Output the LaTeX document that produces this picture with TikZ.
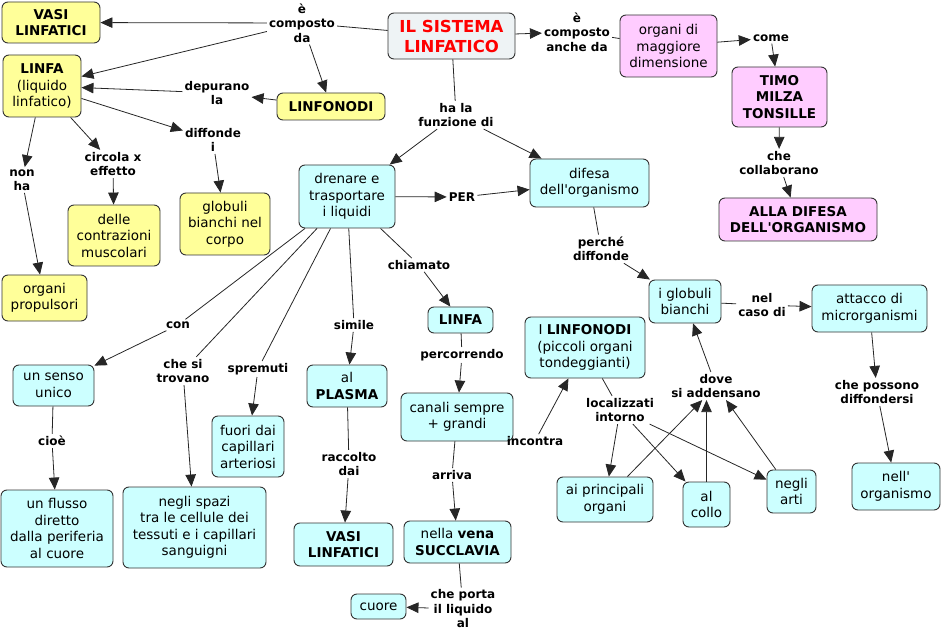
\documentclass[tikz,border=0pt]{standalone}
\usepackage{fontspec}
\setmainfont{DejaVu Sans}
\newfontfamily\dv{DejaVu Sans}
\usetikzlibrary{arrows.meta}
\definecolor{yel}{RGB}{255,255,153}
\definecolor{cy}{RGB}{204,255,255}
\definecolor{pk}{RGB}{255,204,255}
\definecolor{sysfill}{RGB}{238,243,245}
\tikzset{
 box/.style={draw=black!80, line width=0.9pt, rounded corners=6pt, align=center, inner sep=2pt, font=\dv\fontsize{13.5}{16.5}\selectfont},
 bbox/.style={box, font=\dv\fontsize{13.5}{16.5}\selectfont\bfseries},
 yf/.style={fill=yel},
 cf/.style={fill=cy},
 pf/.style={fill=pk},
 sz/.style n args={2}{minimum width=#1pt, minimum height=#2pt},
 lab/.style={align=center, inner sep=2pt, font=\dv\fontsize{12}{14.5}\selectfont\bfseries},
 conn/.style={line width=0.8pt, draw=black!85},
 arr/.style={conn, -{Triangle[length=12pt,width=10.5pt]}},
}
\begin{document}
\begin{tikzpicture}[x=1pt,y=-1pt]
\useasboundingbox (0,0) rectangle (943,631);
% ---------- boxes ----------
\node[bbox,yf,sz={98}{41}] (vasiY) at (51,22.5) {VASI\\LINFATICI};
\node[box,yf,sz={78}{62}] (linfaY) at (42,86) {\textbf{LINFA}\\(liquido\\linfatico)};
\node[bbox,yf,sz={108}{27}] (linfonodiY) at (331,106.5) {LINFONODI};
\node[box,yf,sz={90}{62}] (globuliY) at (225,224) {globuli\\bianchi nel\\corpo};
\node[box,yf,sz={92}{61}] (contraz) at (114,235.5) {delle\\contrazioni\\muscolari};
\node[box,yf,sz={85}{46}] (propuls) at (44.5,298) {organi\\propulsori};
\node[box,fill=sysfill,sz={127}{46},text=red,font=\dv\fontsize{16.5}{20}\selectfont\bfseries] (sistema) at (451.5,36) {IL SISTEMA\\LINFATICO};
\node[box,pf,sz={97}{62}] (organiP) at (668.5,46) {organi di\\maggiore\\dimensione};
\node[bbox,pf,sz={95}{60}] (timo) at (779.5,97) {TIMO\\MILZA\\TONSILLE};
\node[bbox,pf,sz={158}{43}] (allaDif) at (798,219.5) {ALLA DIFESA\\DELL'ORGANISMO};
\node[box,cf,sz={96}{63}] (drenare) at (347,196.5) {drenare e\\trasportare\\i liquidi};
\node[box,cf,sz={119}{48}] (difesa) at (589.5,183) {difesa\\dell'organismo};
\node[box,cf,sz={72}{43}] (globuliC) at (685,301.5) {i globuli\\bianchi};
\node[box,cf,sz={115}{47}] (attacco) at (869.5,308.5) {attacco di\\microrganismi};
\node[box,cf,sz={88}{47}] (nellorg) at (896,486.5) {nell'\\organismo};
\node[box,cf,sz={120}{61}] (linfonodiC) at (585,347.5) {I \textbf{LINFONODI}\\(piccoli organi\\tondeggianti)};
\node[box,cf,sz={96}{45}] (aiPrinc) at (605,499.5) {ai principali\\organi};
\node[box,cf,sz={47}{45}] (collo) at (706.5,504.5) {al\\collo};
\node[box,cf,sz={49}{43}] (arti) at (791.5,491.5) {negli\\arti};
\node[bbox,cf,sz={65}{26}] (linfaC) at (460.5,320) {LINFA};
\node[box,cf,sz={80}{42}] (plasma) at (347,386) {al\\\textbf{PLASMA}};
\node[box,cf,sz={112}{48}] (canali) at (457,417) {canali sempre\\+ grandi};
\node[bbox,cf,sz={99}{43}] (vasiC) at (343.5,544.5) {VASI\\LINFATICI};
\node[box,cf,sz={107}{42}] (vena) at (457.5,542) {nella \textbf{vena}\\\textbf{SUCCLAVIA}};
\node[box,cf,sz={55}{25}] (cuore) at (378.5,606.5) {cuore};
\node[box,cf,sz={81}{41}] (senso) at (53.5,385.5) {un senso\\unico};
\node[box,cf,sz={112}{77}] (flusso) at (57,528.5) {un flusso\\diretto\\dalla periferia\\al cuore};
\node[box,cf,sz={143}{81}] (spazi) at (194.5,527.5) {negli spazi\\tra le cellule dei\\tessuti e i capillari\\sanguigni};
\node[box,cf,sz={72}{61}] (fuori) at (248,446.5) {fuori dai\\capillari\\arteriosi};
% ---------- labels ----------
\node[lab] (lComp) at (302,23) {è\\composto\\da};
\node[lab] (lDep) at (217,93) {depurano\\la};
\node[lab] (lDiff) at (213,140) {diffonde\\i};
\node[lab] (lCirc) at (113,164) {circola x\\effetto};
\node[lab] (lNon) at (22,180) {non\\ha};
\node[lab] (lCompA) at (577,32) {è\\composto\\anche da};
\node[lab] (lCome) at (771,38) {come};
\node[lab] (lCollab) at (779,163) {che\\collaborano};
\node[lab] (lFunz) at (456,115) {ha la\\funzione di};
\node[lab] (lPer) at (462,197) {PER};
\node[lab] (lPerche) at (601,249) {perché\\diffonde};
\node[lab] (lNel) at (762,305) {nel\\caso di};
\node[lab] (lPoss) at (877,392) {che possono\\diffondersi};
\node[lab] (lLoc) at (620,410) {localizzati\\intorno};
\node[lab] (lDove) at (716,386) {dove\\si addensano};
\node[lab] (lInc) at (535,441) {incontra};
\node[lab] (lPerc) at (462,355) {percorrendo};
\node[lab] (lChiam) at (419,265) {chiamato};
\node[lab] (lSimile) at (354,325) {simile};
\node[lab] (lRacc) at (349,464) {raccolto\\dai};
\node[lab] (lArriva) at (452,475) {arriva};
\node[lab] (lPorta) at (463,609) {che porta\\il liquido\\al};
\node[lab] (lCon) at (178,325) {con};
\node[lab] (lTrov) at (183,371) {che si\\trovano};
\node[lab] (lSprem) at (258,369) {spremuti};
\node[lab] (lCioe) at (52,441) {cioè};
% ---------- connectors ----------
\draw[conn] (sistema) -- (lComp);
\draw[arr] (lComp) -- (vasiY);
\draw[arr] (lComp) -- (linfaY);
\draw[arr] (lComp) -- (linfonodiY);
\draw[arr] (linfonodiY) -- (lDep);
\draw[arr] (lDep) -- (linfaY);
\draw[arr] (linfaY) -- (lDiff);
\draw[arr] (lDiff) -- (globuliY);
\draw[arr] (linfaY) -- (lCirc);
\draw[arr] (lCirc) -- (contraz);
\draw[arr] (linfaY) -- (lNon);
\draw[arr] (lNon) -- (propuls);
\draw[arr] (sistema) -- (lCompA);
\draw[conn] (lCompA) -- (organiP);
\draw[arr] (organiP) -- (lCome);
\draw[arr] (lCome) -- (timo);
\draw[arr] (timo) -- (lCollab);
\draw[arr] (lCollab) -- (allaDif);
\draw[conn] (sistema) -- (lFunz);
\draw[arr] (lFunz) -- (drenare);
\draw[arr] (lFunz) -- (difesa);
\draw[arr] (drenare) -- (lPer);
\draw[arr] (lPer) -- (difesa);
\draw[conn] (difesa) -- (lPerche);
\draw[arr] (lPerche) -- (globuliC);
\draw[conn] (globuliC) -- (lNel);
\draw[arr] (lNel) -- (attacco);
\draw[arr] (attacco) -- (lPoss);
\draw[arr] (lPoss) -- (nellorg);
\draw[conn] (drenare) -- (lChiam);
\draw[arr] (lChiam) -- (linfaC);
\draw[conn] (linfaC) -- (lPerc);
\draw[arr] (lPerc) -- (canali);
\draw[conn] (canali) -- (lArriva);
\draw[arr] (lArriva) -- (vena);
\draw[conn] (vena) -- (lPorta);
\draw[arr] (lPorta) -- (cuore);
\draw[arr] (lInc) -- (linfonodiC);
\draw[conn] (linfonodiC) -- (lLoc);
\draw[arr] (lLoc) -- (aiPrinc);
\draw[arr] (lLoc) -- (collo);
\draw[arr] (lLoc) -- (arti);
\draw[arr] (aiPrinc) -- (lDove);
\draw[arr] (collo.north) -- (collo.north |- lDove.south);
\draw[arr] (arti) -- (lDove);
\draw[arr] (lDove) -- (globuliC);
\draw[conn] (drenare) -- (lCon);
\draw[arr] (lCon) -- (senso);
\draw[conn] (drenare) -- (lTrov);
\draw[arr] (lTrov) -- (spazi);
\draw[conn] (drenare) -- (lSprem);
\draw[arr] (lSprem) -- (fuori);
\draw[conn] (drenare) -- (lSimile);
\draw[arr] (lSimile) -- (plasma);
\draw[conn] (plasma) -- (lRacc);
\draw[arr] (lRacc) -- (vasiC);
\draw[conn] (senso) -- (lCioe);
\draw[arr] (lCioe) -- (flusso);
\end{tikzpicture}
\end{document}
